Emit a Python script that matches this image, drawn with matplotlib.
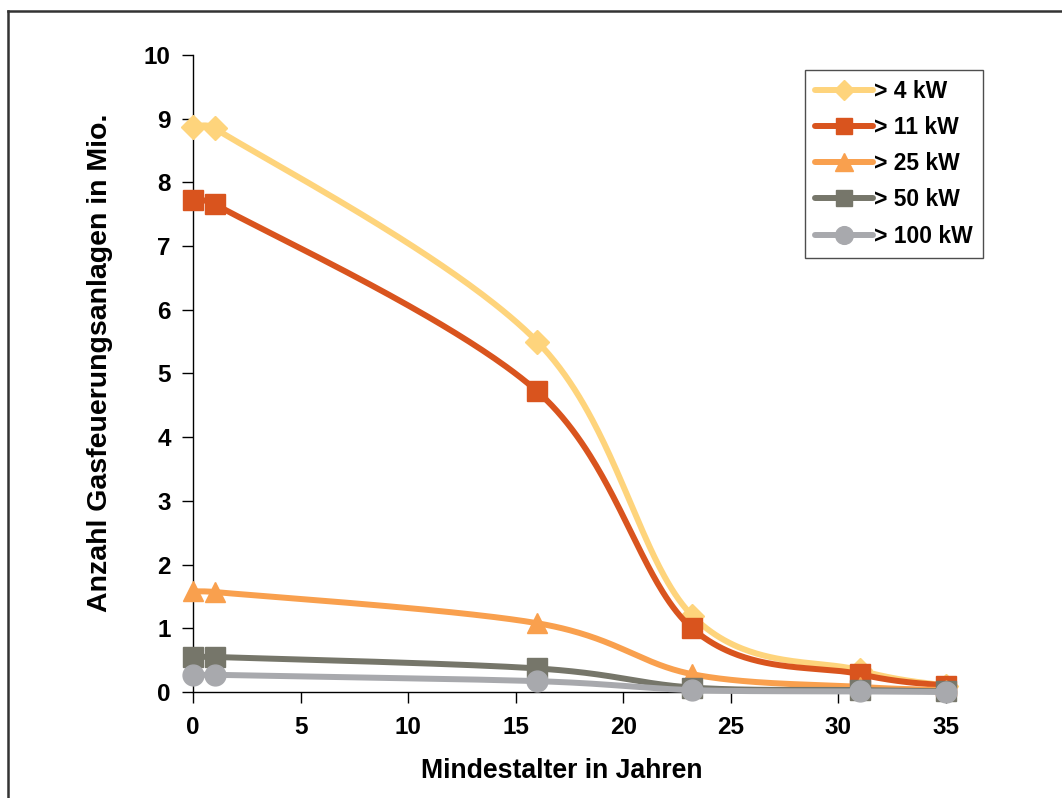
import numpy as np
import matplotlib
matplotlib.use("Agg")
import matplotlib.pyplot as plt
from matplotlib.lines import Line2D

plt.rcParams['font.family'] = ['Liberation Sans', 'DejaVu Sans']

years = [0, 1, 16, 23.2, 31, 35]
labels = ["> 4 kW", "> 11 kW", "> 25 kW", "> 50 kW", "> 100 kW"]
s4 = [8.87, 8.85, 5.50, 1.20, 0.34, 0.10]
s11 = [7.73, 7.66, 4.72, 1.00, 0.28, 0.10]
s25 = [1.58, 1.57, 1.08, 0.28, 0.08, 0.03]
s50 = [0.55, 0.55, 0.37, 0.07, 0.03, 0.01]
s100 = [0.27, 0.27, 0.17, 0.03, 0.01, 0.00]
series = [s4, s11, s25, s50, s100]
colors = ["#FED47C", "#D9541E", "#F9A04E", "#76766A", "#A8A9AD"]
markers = ["D", "s", "^", "s", "o"]
msizes = [12, 14, 15, 14, 15]

xticks = [0, 5, 10, 15, 20, 25, 30, 35]
yticks = list(range(0, 11))


def smooth(x, y, n=80, kx=21.5, ky=63.7):
    """Cubic Bezier smoothing (spreadsheet-style 'smoothed line') computed in
    screen-like units; control handles clamped to avoid loops."""
    P = np.column_stack([np.asarray(x, float) * kx, np.asarray(y, float) * ky])
    m = len(P)
    out = []
    for i in range(m - 1):
        p0 = P[i - 1] if i > 0 else P[i]
        p1, p2 = P[i], P[i + 1]
        p3 = P[i + 2] if i + 2 < m else P[i + 1]
        L = np.linalg.norm(p2 - p1)
        h1 = (p2 - p0) / 6.0
        h2 = (p3 - p1) / 6.0
        n1 = np.linalg.norm(h1); n2 = np.linalg.norm(h2)
        if n1 > 0.5 * L:
            h1 = h1 * 0.5 * L / n1
        if n2 > 0.5 * L:
            h2 = h2 * 0.5 * L / n2
        c1 = p1 + h1
        c2 = p2 - h2
        t = np.linspace(0, 1, n)[:, None]
        seg = ((1 - t) ** 3) * p1 + 3 * ((1 - t) ** 2) * t * c1 + 3 * (1 - t) * t ** 2 * c2 + t ** 3 * p2
        out.append(seg if i == 0 else seg[1:])
    pts = np.vstack(out)
    return pts[:, 0] / kx, pts[:, 1] / ky


fig = plt.figure(figsize=(10.62, 7.98), dpi=100)
ax = fig.add_axes([193 / 1062, 1 - 692 / 798, (946 - 193) / 1062, (692 - 55) / 798])

handles = []
for vals, c, mk, ms, lab in zip(series, colors, markers, msizes, labels):
    sx, sy = smooth(years, vals)
    ax.plot(sx, sy, color=c, lw=4.3, solid_capstyle='butt', solid_joinstyle='round',
            clip_on=False, zorder=3)
    ax.plot(years, vals, ls='none', marker=mk, ms=ms, color=c, mec=c, clip_on=False, zorder=3)
    handles.append(Line2D([0], [0], color=c, lw=4.3, marker=mk, ms=ms * 0.85, mec=c,
                          solid_capstyle='round'))

ax.set_xlim(0, 35)
ax.set_ylim(0, 10)
ax.set_xticks(xticks)
ax.set_yticks(yticks)
ax.spines['top'].set_visible(False)
ax.spines['right'].set_visible(False)
ax.spines['left'].set_linewidth(1.0)
ax.spines['bottom'].set_linewidth(1.0)
ax.tick_params(axis='both', direction='out', length=8, width=1, labelsize=17.5)
ax.tick_params(axis='y', pad=8)
ax.tick_params(axis='x', pad=9)
for t in ax.get_xticklabels() + ax.get_yticklabels():
    t.set_fontweight('bold')

ax.set_xlabel("Mindestalter in Jahren", fontsize=19.2, fontweight='bold')
ax.set_ylabel("Anzahl Gasfeuerungsanlagen in Mio.", fontsize=20.5, fontweight='bold')
ax.xaxis.set_label_coords(0.49, -(771 - 692) / 637, transform=ax.transAxes)
ax.xaxis.label.set_va('center')
ax.yaxis.set_label_coords(-(193 - 100) / 753, 0.516, transform=ax.transAxes)
ax.yaxis.label.set_va('center')

leg = ax.legend(handles, labels, loc='upper left', bbox_to_anchor=((805 - 193) / 753, 1 - (70 - 55) / 637),
                frameon=True, fancybox=False, fontsize=16.5, handlelength=2.5, handletextpad=0.05,
                labelspacing=0.57, borderpad=0.45, borderaxespad=0)
leg.get_frame().set_edgecolor('#222222')
leg.get_frame().set_linewidth(1.0)
for t in leg.get_texts():
    t.set_fontweight('bold')

# figure frame (left and top edges visible)
fig.add_artist(Line2D([8 / 1062, 8 / 1062], [0, 1 - 11 / 798], color='#333333', lw=1.8,
                      transform=fig.transFigure))
fig.add_artist(Line2D([8 / 1062, 1], [1 - 11 / 798, 1 - 11 / 798], color='#333333', lw=1.8,
                      transform=fig.transFigure))

fig.savefig("out.png", dpi=100)
